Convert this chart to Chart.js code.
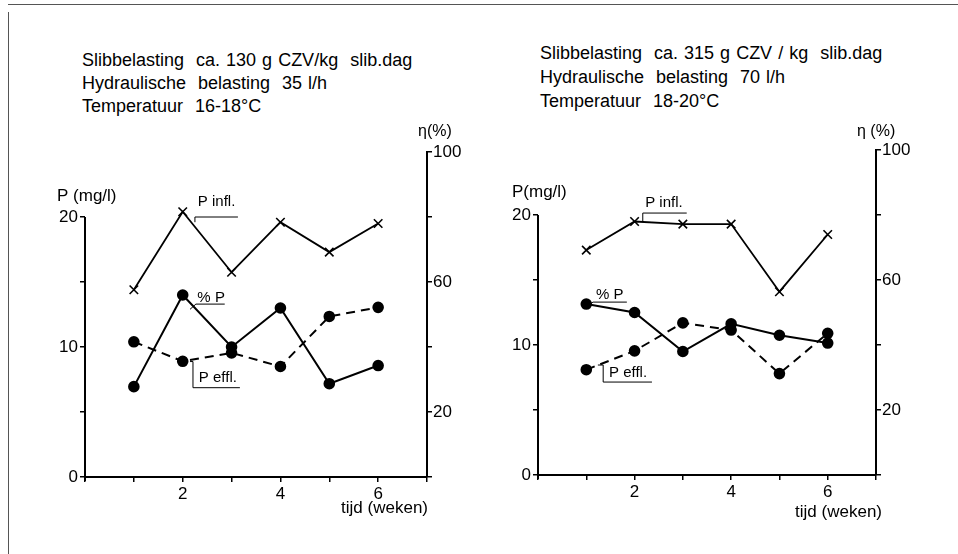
<!DOCTYPE html>
<html><head><meta charset="utf-8">
<script src="https://cdn.jsdelivr.net/npm/chart.js@4/dist/chart.umd.min.js"></script>
<style>
html,body{margin:0;padding:0;background:#fff;}
body{width:958px;height:554px;position:relative;overflow:hidden;font-family:"Liberation Sans",Arial,sans-serif;color:#000;}
.frame-top{position:absolute;left:8px;top:4px;width:950px;height:0;border-top:1px solid #555;}
.frame-left{position:absolute;left:8px;top:12px;width:0;height:542px;border-left:1px solid #555;}
.hdr{position:absolute;font-size:18px;line-height:22px;white-space:pre;word-spacing:1px;}
canvas{position:absolute;top:0;}
</style></head>
<body>
<div class="frame-top"></div>
<div class="frame-left"></div>
<div class="hdr" style="left:82px;top:49px">Slibbelasting  ca. 130 g CZV/kg  slib.dag</div>
<div class="hdr" style="left:82px;top:72px">Hydraulische  belasting  35 l/h</div>
<div class="hdr" style="left:82px;top:95px">Temperatuur  16-18°C</div>
<div class="hdr" style="left:540px;top:42px">Slibbelasting  ca. 315 g CZV / kg  slib.dag</div>
<div class="hdr" style="left:540px;top:66px">Hydraulische  belasting  70 l/h</div>
<div class="hdr" style="left:540px;top:90px">Temperatuur  18-20°C</div>
<canvas id="c1" width="479" height="554" style="left:0px"></canvas>
<canvas id="c2" width="479" height="554" style="left:479px"></canvas>
<script>
// ---- data ----
const weeks = [1, 2, 3, 4, 5, 6];
const leftPInfl  = [14.4, 20.4, 15.75, 19.6, 17.3, 19.5];
const leftPEffl  = [10.4, 8.9, 9.55, 8.5, 12.35, 13.05];
const leftPctP   = [27.8, 56, 40, 52, 28.7, 34.3];
const rightPInfl = [17.3, 19.5, 19.3, 19.3, 14.1, 18.5];
const rightPEffl = [8.1, 9.55, 11.7, 11.15, 7.8, 10.9];
const rightPctP  = [52.6, 50, 38, 46.5, 43, 40.6];
const xTickValues   = [0, 1, 2, 3, 4, 5, 6, 7];
const xTickLabels   = [2, 4, 6];
const pTickValues   = [0, 5, 10, 15, 20];
const pTickLabels   = [0, 10, 20];
const etaTickValues = [0, 20, 40, 60, 80, 100];
const etaTickLabels = [20, 60, 100];

const FONT = '"Liberation Sans", Arial, sans-serif';
const pts = (xs, ys) => xs.map((w, i) => ({x: w, y: ys[i]}));

const overlay = {
  id: 'overlay',
  afterDraw(chart, args, o) {
    const {ctx, chartArea: a, scales: {x, y}} = chart;
    ctx.save();
    ctx.strokeStyle = '#000'; ctx.fillStyle = '#000';
    // left axis line, drawn only from 0 to 20
    ctx.lineWidth = 2;
    ctx.beginPath();
    ctx.moveTo(a.left, y.getPixelForValue(0) + 4);
    ctx.lineTo(a.left, y.getPixelForValue(20));
    ctx.stroke();
    // axis titles
    ctx.font = '17px ' + FONT;
    ctx.textBaseline = 'middle';
    ctx.textAlign = 'left';
    ctx.fillText(o.pTitle, a.left + o.pTitleDx, y.getPixelForValue(20) + o.pTitleDy);
    ctx.font = '16px ' + FONT;
    ctx.fillText(o.etaTitle, a.right + o.etaTitleDx, a.top + o.etaTitleDy);
    ctx.font = '17px ' + FONT;
    ctx.textAlign = 'right';
    ctx.fillText('tijd (weken)', a.right + o.xTitleDx, a.bottom + o.xTitleDy);
    // series annotations
    ctx.font = '15px ' + FONT;
    ctx.textAlign = 'left';
    ctx.lineWidth = 1;
    for (const n of o.notes) {
      ctx.fillText(n.text, x.getPixelForValue(n.at[0]), y.getPixelForValue(n.at[1]));
      ctx.beginPath();
      n.path.forEach((p, i) => {
        const px = x.getPixelForValue(p[0]), py = y.getPixelForValue(p[1]);
        if (i === 0) ctx.moveTo(px, py); else ctx.lineTo(px, py);
      });
      ctx.stroke();
    }
    ctx.restore();
  }
};

function makeChart(id, pinfl, peffl, pct, lay, ov) {
  const grid = {display: true, drawOnChartArea: false, drawTicks: true, tickLength: 5, color: '#000', lineWidth: 1.5};
  const tickFont = {size: 17, family: FONT};
  return new Chart(document.getElementById(id), {
    type: 'line',
    data: {
      datasets: [
        {label: 'P infl.', data: pts(weeks, pinfl), yAxisID: 'y', borderColor: '#000', borderWidth: 1.8,
         pointStyle: 'crossRot', pointRadius: 6, pointBorderWidth: 1.6, pointBorderColor: '#000', tension: 0},
        {label: '% P', data: pts(weeks, pct), yAxisID: 'y2', borderColor: '#000', borderWidth: 2,
         pointStyle: 'circle', pointRadius: 4.8, pointBackgroundColor: '#000', pointBorderColor: '#000', tension: 0},
        {label: 'P effl.', data: pts(weeks, peffl), yAxisID: 'y', borderColor: '#000', borderWidth: 2, borderDash: [9, 6],
         pointStyle: 'circle', pointRadius: 4.8, pointBackgroundColor: '#000', pointBorderColor: '#000', tension: 0}
      ]
    },
    options: {
      responsive: false, animation: false, devicePixelRatio: 1,
      layout: {padding: {top: lay.top, left: 0, right: 0, bottom: 0}},
      plugins: {legend: {display: false}, tooltip: {enabled: false}, overlay: ov},
      scales: {
        x: {type: 'linear', min: 0, max: 7,
            afterBuildTicks: s => { s.ticks = xTickValues.map(v => ({value: v})); },
            afterFit: s => { s.height = lay.xH; },
            grid, border: {display: true, color: '#000', width: 2},
            ticks: {color: '#000', font: tickFont, padding: 2, autoSkip: false, maxRotation: 0,
                    callback: v => xTickLabels.includes(v) ? String(v) : ''}},
        y: {type: 'linear', position: 'left', min: 0, max: 25,
            afterBuildTicks: s => { s.ticks = pTickValues.map(v => ({value: v})); },
            afterFit: s => { s.width = lay.yW; },
            grid, border: {display: false},
            ticks: {color: '#000', font: tickFont, padding: 2,
                    callback: v => pTickLabels.includes(v) ? String(v) : ''}},
        y2: {type: 'linear', position: 'right', min: 0, max: 100,
            afterBuildTicks: s => { s.ticks = etaTickValues.map(v => ({value: v})); },
            afterFit: s => { s.width = lay.y2W; },
            grid, border: {display: true, color: '#000', width: 2},
            ticks: {color: '#000', font: tickFont, padding: 1,
                    callback: v => etaTickLabels.includes(v) ? String(v) : ''}}
      }
    },
    plugins: [overlay]
  });
}

makeChart('c1', leftPInfl, leftPEffl, leftPctP,
  {top: 152, yW: 85, y2W: 52, xH: 77},
  {pTitle: 'P (mg/l)', pTitleDx: -28, pTitleDy: -21,
   etaTitle: 'η(%)', etaTitleDx: -9, etaTitleDy: -20,
   xTitleDx: 1, xTitleDy: 31,
   notes: [
     {text: 'P infl.', at: [2.31, 21.2], path: [[2.25, 19.6], [2.25, 20.0], [3.13, 20.0]]},
     {text: '% P', at: [2.3, 13.8], path: [[2.15, 12.9], [2.27, 13.3], [2.86, 13.3]]},
     {text: 'P effl.', at: [2.33, 7.65], path: [[2.15, 8.88], [2.21, 8.88], [2.21, 6.87], [3.17, 6.87]]}
   ]});

makeChart('c2', rightPInfl, rightPEffl, rightPctP,
  {top: 150, yW: 59, y2W: 82, xH: 79},
  {pTitle: 'P(mg/l)', pTitleDx: -26, pTitleDy: -23,
   etaTitle: 'η (%)', etaTitleDx: -19, etaTitleDy: -18,
   xTitleDx: 6, xTitleDy: 37,
   notes: [
     {text: 'P infl.', at: [2.22, 20.9], path: [[2.17, 19.45], [2.17, 20.15], [3.08, 20.15]]},
     {text: '% P', at: [1.2, 13.85], path: [[1.05, 13.1], [1.14, 13.3], [1.84, 13.3]]},
     {text: 'P effl.', at: [1.47, 7.85], path: [[1.24, 8.46], [1.35, 8.46], [1.35, 7.15], [2.36, 7.15]]}
   ]});
</script>
</body></html>
